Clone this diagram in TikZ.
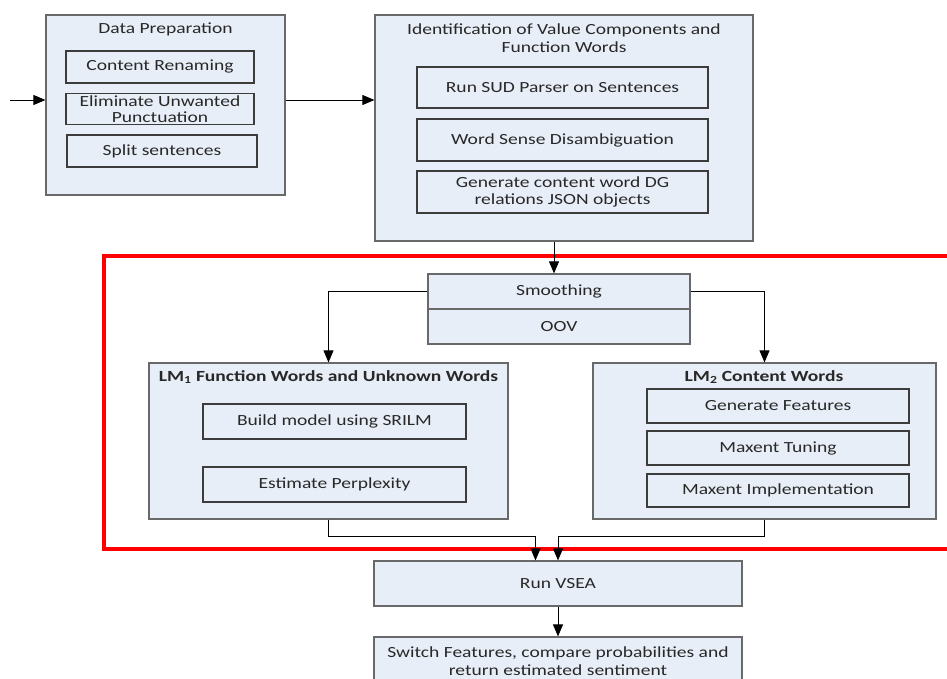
\documentclass[tikz,border=0pt]{standalone}
\usepackage{fontspec}
\setmainfont{Carlito}[FakeStretch=1.26]
\usetikzlibrary{arrows.meta}
\definecolor{boxfill}{RGB}{232,238,247}
\definecolor{outerline}{RGB}{105,105,105}
\definecolor{innerline}{RGB}{60,60,60}
\definecolor{txt}{RGB}{40,40,40}
\definecolor{frame}{RGB}{255,0,0}

\begin{document}
\begin{tikzpicture}[x=1pt,y=-1pt,
  every node/.style={font=\fontsize{15.5}{17.5}\selectfont, text=txt, inner sep=0pt, align=center},
  group/.style={draw=outerline, fill=boxfill, line width=1.2pt},
  task/.style={draw=innerline, fill=boxfill, line width=1.2pt},
  heading/.style={font=\bfseries\fontsize{15.5}{17.5}\selectfont},
  link/.style={draw=black, line width=0.8pt},
  arr/.style={link, -{Triangle[length=12pt,width=10pt]}},
]
\useasboundingbox (0,0) rectangle (947,679);
\clip (0,0) rectangle (947,679);

% Data preparation stage
\node[group, minimum width=239pt, minimum height=180pt] (dp) at (165.5,105) {};
\node (dpt) at (165.5,29) {Data Preparation};
\node[task, minimum width=188pt, minimum height=32pt] (cr) at (160,67) {Content Renaming};
\node[task, minimum width=188pt, minimum height=31pt] (eu) at (160,109) {Eliminate Unwanted\\[-2pt]Punctuation};
\node[task, minimum width=190pt, minimum height=32pt] (ss) at (162,151) {Split sentences};

% Identification stage
\node[group, minimum width=378pt, minimum height=226pt] (id) at (564,128) {};
\node (idt) at (564,38) {Identification of Value Components and\\Function Words};
\node[task, minimum width=291pt, minimum height=41pt] (sud) at (562.5,87.5) {Run SUD Parser on Sentences};
\node[task, minimum width=291pt, minimum height=42pt] (wsd) at (562.5,140) {Word Sense Disambiguation};
\node[task, minimum width=291pt, minimum height=42pt] (gen) at (562.5,192) {Generate content word DG\\relations JSON objects};

% Language model region
\draw[frame, line width=4pt] (104,256) rectangle (980,549);

\node[group, minimum width=262pt, minimum height=35pt] (sm) at (559,291.5) {Smoothing};
\node[group, minimum width=262pt, minimum height=35pt] (oov) at (559,326.5) {OOV};

\node[group, minimum width=359pt, minimum height=156pt] (lm1) at (328.5,441) {};
\node[heading] (lm1t) at (328.5,377) {LM\textsubscript{1} Function Words and Unknown Words};
\node[task, minimum width=263pt, minimum height=35pt] (bm) at (334.5,421.5) {Build model using SRILM};
\node[task, minimum width=263pt, minimum height=35pt] (ep) at (334.5,484.5) {Estimate Perplexity};

\node[group, minimum width=343pt, minimum height=156pt] (lm2) at (764.5,441) {};
\node[heading] (lm2t) at (764,377) {LM\textsubscript{2} Content Words};
\node[task, minimum width=262pt, minimum height=34pt] (gf) at (778,406) {Generate Features};
\node[task, minimum width=262pt, minimum height=34pt] (mt) at (778,448) {Maxent Tuning};
\node[task, minimum width=262pt, minimum height=33pt] (mi) at (778,490.5) {Maxent Implementation};

% Evaluation stage
\node[group, minimum width=368pt, minimum height=45pt] (vsea) at (558,583.5) {Run VSEA};
\node[group, minimum width=368pt, minimum height=48pt] (sw) at (558,661) {Switch Features, compare probabilities and\\return estimated sentiment};

% Connectors
\coordinate (in) at (10,100);
\draw[arr] (in) -- (dp.west |- in);
\draw[arr] (dp.east |- in) -- (id.west |- in);
\draw[arr] (id.south -| 554,0) -- (sm.north -| 554,0);
\draw[arr] (sm.west) -| (lm1.north);
\draw[arr] (sm.east) -| (lm2.north);
\draw[arr] (lm1.south) -- ++(0,17) -| ([xshift=-22.5pt]vsea.north);
\draw[arr] (lm2.south) -- ++(0,17) -| (vsea.north);
\draw[arr] (vsea.south) -- (sw.north);
\end{tikzpicture}
\end{document}
